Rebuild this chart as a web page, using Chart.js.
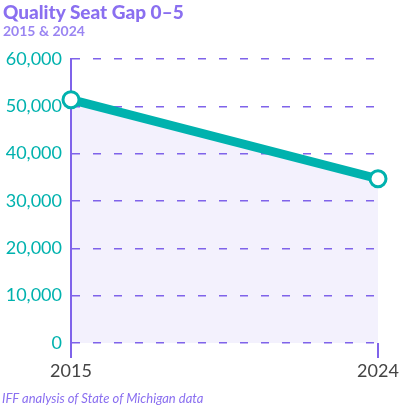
<!DOCTYPE html>
<html>
<head>
<meta charset="utf-8">
<script src="https://cdn.jsdelivr.net/npm/chart.js@4/dist/chart.umd.min.js"></script>
<style>
  body { margin: 0; background: #fff; font-family: Lato, sans-serif; }
  #wrap { position: relative; width: 401px; height: 408px; }
  #title { position: absolute; left: 3px; top: 0px; font-size: 19px; font-weight: 900; color: #8a6ff0; }
  #sub { position: absolute; left: 3px; top: 22px; font-size: 14px; font-weight: 700; color: #9a85f2; }
  #foot { position: absolute; left: 2px; top: 390px; font-size: 13px; font-style: italic; color: #8a6ff0; }
  canvas { position: absolute; left: 0; top: 0; }
</style>
</head>
<body>
<div id="wrap">
  <canvas id="gapChart" width="401" height="408"></canvas>
  <div id="title">Quality Seat Gap 0–5</div>
  <div id="sub">2015 &amp; 2024</div>
  <div id="foot">IFF analysis of State of Michigan data</div>
</div>
<script>
// data
const years = ['2015', '2024'];
const seatGap = [51400, 34700];
const yTicks = [0, 10000, 20000, 30000, 40000, 50000, 60000];

const purple = '#7f63ea';
const teal = '#00b2ae';

const ctx = document.getElementById('gapChart').getContext('2d');
const gapChart = new Chart(ctx, {
    type: 'line',
    data: {
        labels: years,
        datasets: [{
            label: 'Quality Seat Gap',
            data: seatGap,
            borderColor: teal,
            borderWidth: 9,
            backgroundColor: '#f3f1fd',
            fill: 'origin',
            tension: 0,
            pointRadius: 8,
            pointBorderWidth: 3,
            pointBackgroundColor: '#fff',
            pointBorderColor: teal,
            clip: false
        }]
    },
    options: {
        responsive: false,
        animation: false,
        layout: {
            padding: { top: 59, right: 23, bottom: 25, left: 0 }
        },
        plugins: {
            legend: { display: false },
            tooltip: { enabled: false },
            filler: { drawTime: 'beforeDraw' } // keep the grid dashes on top of the fill
        },
        scales: {
            x: {
                offset: false,
                border: { display: false },
                grid: {
                    drawOnChartArea: false,
                    drawTicks: true,
                    tickLength: 15,
                    color: purple,
                    lineWidth: 2
                },
                ticks: {
                    color: '#444',
                    font: { family: 'Lato', size: 18 },
                    padding: 2,
                    maxRotation: 0
                },
                afterFit: function(scale) { scale.height = 40; }
            },
            y: {
                min: 0,
                max: 60000,
                afterBuildTicks: function(scale) {
                    scale.ticks = yTicks.map(function(v) { return { value: v }; });
                },
                grid: {
                    drawTicks: false,
                    color: purple,
                    lineWidth: 1.5
                },
                border: { display: true, color: purple, width: 2, dash: [8, 13] },
                ticks: {
                    color: teal,
                    font: { family: 'Lato', size: 18 },
                    padding: 9,
                    callback: function(v) { return v.toLocaleString('en-US'); }
                },
                afterFit: function(scale) { scale.width = 71; }
            }
        }
    }
});
</script>
</body>
</html>
